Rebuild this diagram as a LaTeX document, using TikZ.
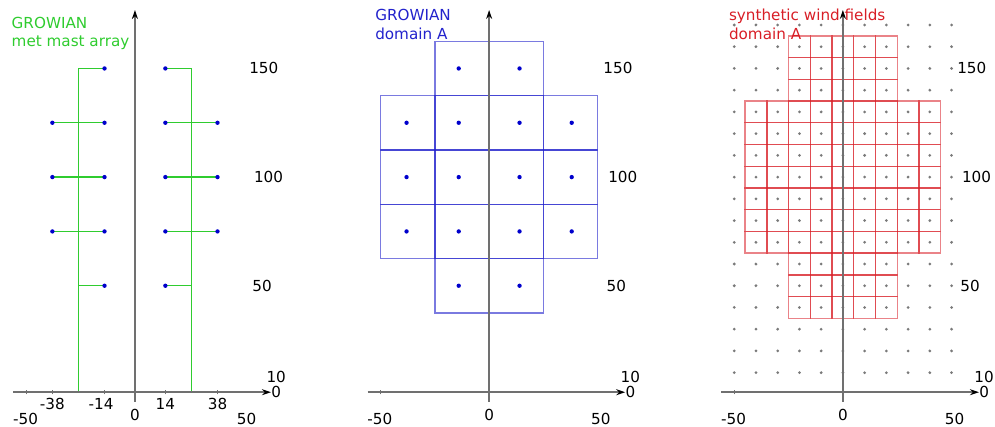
\documentclass[tikz,border=0pt]{standalone}
\usepackage{fontspec}
\setmainfont{DejaVu Sans}
\usepackage{xcolor}
\usetikzlibrary{arrows.meta}
\definecolor{MastGreen}{HTML}{2FCC2F}
\definecolor{DomBlue}{HTML}{2222CC}
\definecolor{DotBlue}{HTML}{0000CC}
\definecolor{SynRed}{HTML}{D81E26}
\definecolor{AxisGray}{HTML}{707070}
\definecolor{DotGray}{HTML}{7A7A7A}

\begin{document}
\begin{tikzpicture}[
	x=2.173pt, y=2.173pt,
	txt/.style={font=\fontsize{15.2}{19}\selectfont, inner sep=0pt},
	ttl/.style={txt, anchor=base west},
	axisline/.style={draw=AxisGray, line width=1.5pt, -{Stealth[black, length=9pt, width=6pt]}},
	tickline/.style={draw=AxisGray, line width=1.1pt},
	mast/.style={draw=MastGreen, line width=1.3pt},
	bdot/.style={fill=DotBlue},
	gdot/.style={fill=DotGray},
	cellA/.style={draw=DomBlue, draw opacity=0.6, line width=1.4pt},
	cellB/.style={draw=SynRed, draw opacity=0.55, line width=1.4pt}
]
\useasboundingbox (-62.1,-15) rectangle (395.8,181.5);

% met mast array
\draw[mast] (-26,1) -- (-26,150) -- (-14,150);
\draw[mast] (26,1) -- (26,150) -- (14,150);
\foreach \h in {75,100,125} {
	\draw[mast] (-38,\h) -- (-14,\h);
	\draw[mast] (14,\h) -- (38,\h);
}
\draw[mast] (-26,50) -- (-14,50);
\draw[mast] (14,50) -- (26,50);
\foreach \h in {50,75,...,150} {
	\fill[bdot] (-14,\h) circle (1);
	\fill[bdot] (14,\h) circle (1);
}
\foreach \h in {75,100,125} {
	\fill[bdot] (-38,\h) circle (1);
	\fill[bdot] (38,\h) circle (1);
}
\foreach \t/\lx in {-38/-38,-14/-15.6,14/14,38/38} {
	\draw[tickline] (\t,0) -- (\t,2);
	\node[txt] (m-x\t) at (\lx,-4.4) {\t};
}
\node[ttl, text=MastGreen] (mtitle1) at (-56.8,168.5) {GROWIAN};
\node[ttl, text=MastGreen] (mtitle2) at (-56.8,160) {met mast array};

% GROWIAN domain A
\begin{scope}[shift={(163,0)}]
\foreach \cy in {75,100,125}
	\foreach \cx in {-50,-25,0,25}
		\draw[cellA] (\cx,\cy-12.5) rectangle ++(25,25);
\foreach \cy in {50,150}
	\foreach \cx in {-25,0}
		\draw[cellA] (\cx,\cy-12.5) rectangle ++(25,25);
\foreach \h in {50,75,...,150} {
	\fill[bdot] (-14,\h) circle (1);
	\fill[bdot] (14,\h) circle (1);
}
\foreach \h in {75,100,125} {
	\fill[bdot] (-38,\h) circle (1);
	\fill[bdot] (38,\h) circle (1);
}
\node[ttl, text=DomBlue] (atitle1) at (-52.5,172) {GROWIAN};
\node[ttl, text=DomBlue] (atitle2) at (-52.5,163.4) {domain A};
\end{scope}

% synthetic wind fields
\begin{scope}[shift={(325.8,0)}]
\foreach \cy in {70,80,...,130}
	\foreach \cx in {-40,-30,...,40}
		\draw[cellB] (\cx-5,\cy-5) rectangle ++(10,10);
\foreach \cy in {40,50,60,140,150,160}
	\foreach \cx in {-20,-10,...,20}
		\draw[cellB] (\cx-5,\cy-5) rectangle ++(10,10);
\foreach \gx in {-50,-40,...,50}
	\foreach \gy in {10,20,...,170}
		\fill[gdot] (\gx,\gy) circle (0.7);
\node[ttl, text=SynRed] (stitle1) at (-52.5,172) {synthetic wind fields};
\node[ttl, text=SynRed] (stitle2) at (-52.5,163.4) {domain A};
\end{scope}

% axes
\foreach \sx/\p in {0/m,163/a,325.8/s} {
	\begin{scope}[shift={(\sx,0)}]
	\draw[axisline] (-55.9,1) coordinate (\p-xa) -- (62.6,1) coordinate (\p-xb);
	\draw[axisline] (0,-3.4) coordinate (\p-ya) -- (0,176.9) coordinate (\p-yb);
	\draw[tickline] (-50,0) -- (-50,2);
	\node[txt] (\p-t150) at (59.3,150) {150};
	\node[txt] (\p-t100) at (61.5,100) {100};
	\node[txt] (\p-t50) at (58.5,50) {50};
	\node[txt] (\p-t10) at (65,7.9) {10};
	\node[txt] (\p-t0) at (65,1.1) {0};
	\node[txt] (\p-xm50) at (-50.3,-11.3) {-50};
	\node[txt] (\p-x0) at (0,-9.6) {0};
	\node[txt] (\p-x50) at (51.4,-11.3) {50};
	\end{scope}
}
\end{tikzpicture}
\end{document}
